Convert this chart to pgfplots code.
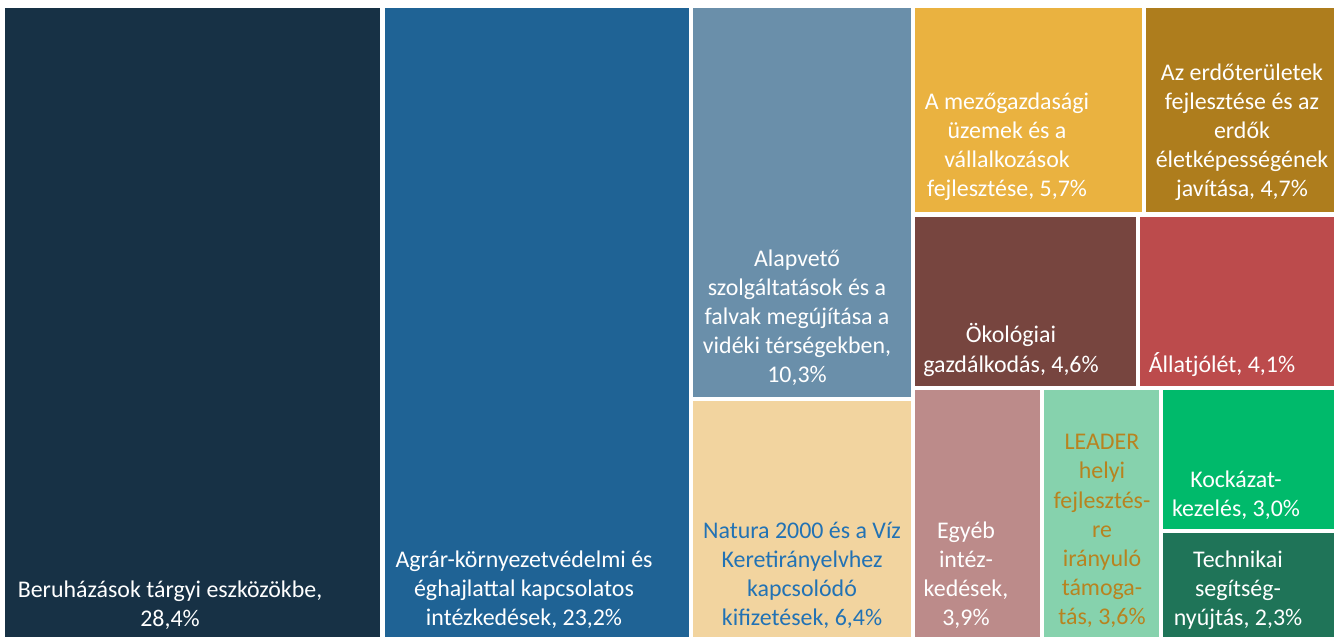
\documentclass[border=0pt]{standalone}
\usepackage{pgfplots}
\pgfplotsset{compat=1.18}
\usepackage{fontspec}
\setmainfont{Carlito}
\definecolor{cA}{HTML}{173145}
\definecolor{cB}{HTML}{1F6395}
\definecolor{cC}{HTML}{6A8FAA}
\definecolor{cD}{HTML}{F2D49F}
\definecolor{cE}{HTML}{EAB240}
\definecolor{cF}{HTML}{AE7D1D}
\definecolor{cG}{HTML}{77453F}
\definecolor{cH}{HTML}{BC4B4C}
\definecolor{cI}{HTML}{BC8B8A}
\definecolor{cJ}{HTML}{86D2AD}
\definecolor{cK}{HTML}{00BA6B}
\definecolor{cL}{HTML}{1F7458}
\definecolor{tBlue}{HTML}{2272B4}
\definecolor{tGold}{HTML}{B8831F}
\tikzset{lab/.style={font=\fontsize{12}{14.6}\selectfont, align=center, text=white, inner sep=0pt}}
\newcommand{\rect}[5]{\addplot[fill=#5, draw=none] coordinates {(#1,#2) (#3,#2) (#3,#4) (#1,#4)} -- cycle;}
\begin{document}
\begin{tikzpicture}
\begin{axis}[
  width=669bp, height=318.5bp, scale only axis,
  xmin=0, xmax=1338, ymin=0, ymax=637, y dir=reverse,
  hide axis, clip=false,
]
\rect{5}{8}{380}{637}{cA}
\rect{385}{8}{689}{637}{cB}
\rect{693}{8}{911}{397}{cC}
\rect{693}{401}{911}{637}{cD}
\rect{915}{8}{1142}{212}{cE}
\rect{1146}{8}{1334}{212}{cF}
\rect{915}{217}{1136}{386}{cG}
\rect{1140}{217}{1334}{386}{cH}
\rect{915}{390}{1040}{637}{cI}
\rect{1044}{390}{1159}{637}{cJ}
\rect{1163}{390}{1334}{529}{cK}
\rect{1163}{533}{1334}{637}{cL}
\node[lab] at (axis cs:170,605) {Beruházások tárgyi eszközökbe,\\28,4\%};
\node[lab] at (axis cs:524,590) {Agrár-környezetvédelmi és\\éghajlattal kapcsolatos\\intézkedések, 23,2\%};
\node[lab] at (axis cs:797,318) {Alapvető\\szolgáltatások és a\\falvak megújítása a\\vidéki térségekben,\\10,3\%};
\node[lab,text=tBlue] at (axis cs:802,575) {Natura 2000 és a Víz\\Keretirányelvhez\\kapcsolódó\\kifizetések, 6,4\%};
\node[lab] at (axis cs:1007,147) {A mezőgazdasági\\üzemek és a\\vállalkozások\\fejlesztése, 5,7\%};
\node[lab] at (axis cs:1242,132) {Az erdőterületek\\fejlesztése és az\\erdők\\életképességének\\javítása, 4,7\%};
\node[lab] at (axis cs:1011,350) {Ökológiai\\gazdálkodás, 4,6\%};
\node[lab] at (axis cs:1222,365) {Állatjólét, 4,1\%};
\node[lab] at (axis cs:966,575) {Egyéb\\intéz-\\kedések,\\3,9\%};
\node[lab,text=tGold] at (axis cs:1102,531) {LEADER\\helyi\\fejlesztés-\\re\\irányuló\\támoga-\\tás, 3,6\%};
\node[lab] at (axis cs:1236,495) {Kockázat-\\kezelés, 3,0\%};
\node[lab] at (axis cs:1238,590) {Technikai\\segítség-\\nyújtás, 2,3\%};
\end{axis}
\path (current axis.south west) rectangle (current axis.north east);
\end{tikzpicture}
\end{document}
